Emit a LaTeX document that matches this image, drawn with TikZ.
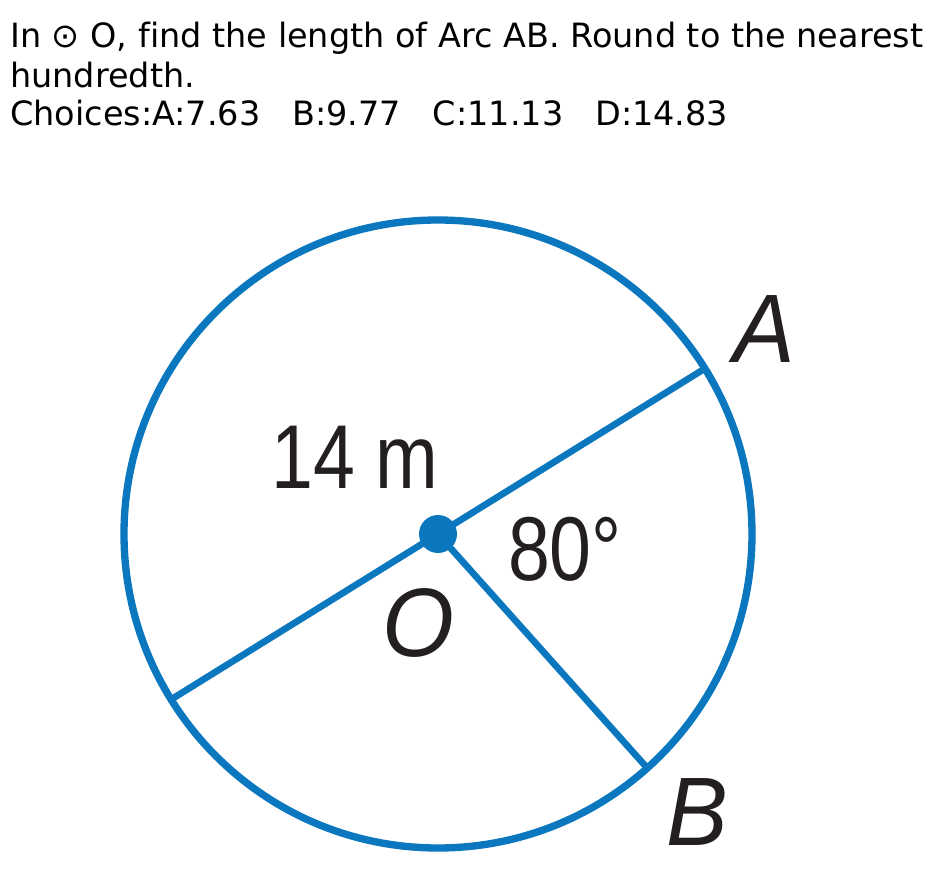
\documentclass[tikz,border=0pt]{standalone}
\usepackage{fontspec}
\setmainfont[Ligatures=NoCommon]{DejaVu Sans}
\newfontfamily\numfont[FakeStretch=0.83]{Liberation Sans}
\newfontfamily\ptfont[FakeStretch=0.95]{Liberation Sans Italic}
\definecolor{circblue}{HTML}{0A77BF}
\definecolor{labelink}{HTML}{231F20}
\tikzset{
  qline/.style={anchor=base west,inner sep=0pt,font=\fontsize{25.1pt}{29pt}\selectfont},
  rim/.style={draw=circblue,line width=5.5pt},
  spoke/.style={draw=circblue,line width=5pt},
  numlabel/.style={anchor=base,inner sep=0pt,text=labelink,font=\numfont\fontsize{68pt}{70pt}\selectfont},
  ptlabel/.style={anchor=base,inner sep=0pt,text=labelink,font=\ptfont\fontsize{73pt}{75pt}\selectfont}
}
\begin{document}
\begin{tikzpicture}[x=0.75pt,y=0.75pt]
\useasboundingbox (0,0) rectangle (933,-871);

\node[qline] (q1) at (10,-47) {In ⊙ O, find the length of Arc AB. Round to the nearest};
\node[qline] (q2) at (10,-87) {hundredth.};
\node[qline] (q3) at (10,-125) {Choices:A:7.63\ \ \ B:9.77\ \ \ C:11.13\ \ \ D:14.83};

\coordinate (O) at (438,-534);
\coordinate (A) at ([shift={(O)}]31.8:314);
\coordinate (C) at ([shift={(O)}]211.8:314);
\coordinate (B) at ([shift={(O)}]-48.2:314);

\draw[rim] (O) circle (314);
\draw[spoke] (C) -- (A);
\draw[spoke] (O) -- (B);
\fill[circblue] (O) circle (19);

\node[numlabel] (radius) at (355,-488) {14 m};
\node[numlabel] (angle) at (565,-580) {80°};
\node[ptlabel] (Olab) at (418,-656) {O};
\node[ptlabel] (Alab) at (764,-362) {A};
\node[ptlabel] (Blab) at (697,-845) {B};
\end{tikzpicture}
\end{document}
